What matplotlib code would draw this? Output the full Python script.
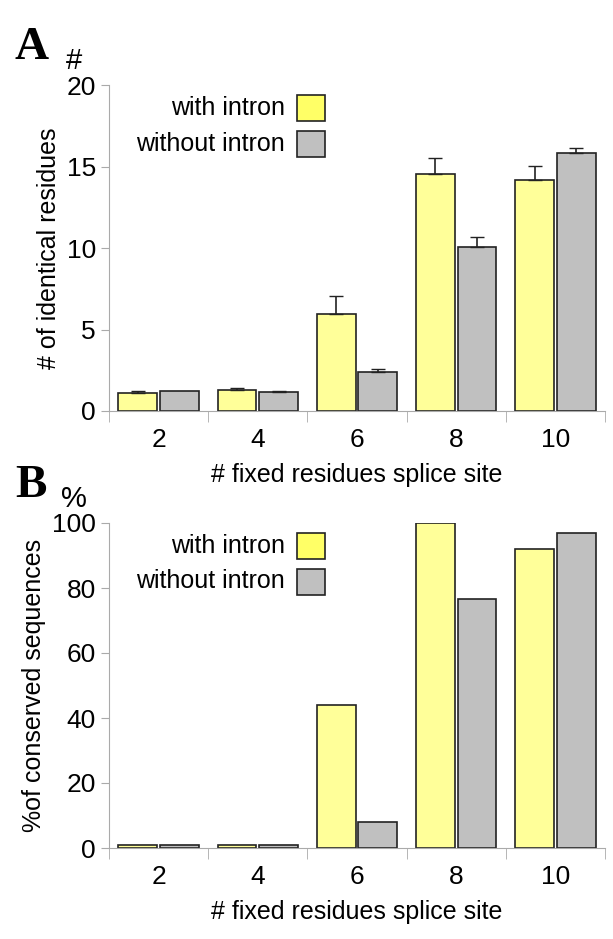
import numpy as np
import matplotlib
matplotlib.use('Agg')
import matplotlib.pyplot as plt
from matplotlib.patches import Rectangle

plt.rcParams['font.family'] = ['Liberation Sans', 'DejaVu Sans']

categories = ['2', '4', '6', '8', '10']
a_with = [1.1, 1.3, 5.95, 14.55, 14.2]
a_with_err = [0.1, 0.1, 1.1, 0.95, 0.85]
a_without = [1.25, 1.15, 2.4, 10.05, 15.8]
a_without_err = [0.0, 0.08, 0.15, 0.65, 0.35]
b_with = [1, 1, 44, 100, 92]
b_without = [1, 1, 8, 76.5, 97]

W, H = 613, 939
fig = plt.figure(figsize=(W / 100, H / 100), dpi=100)

yel = '#FFFF99'
yel_leg = '#FFFF66'
gry = '#C0C0C0'


def panel(rect, vw, vwo, ew, ewo, ymax, step, ylabel, unit, letter):
    ax = fig.add_axes(rect)
    x = np.arange(len(categories))
    bw = 0.39
    ax.bar(x - 0.21, vw, bw, color=yel, edgecolor='#222222', linewidth=1.2, zorder=2)
    ax.bar(x + 0.21, vwo, bw, color=gry, edgecolor='#222222', linewidth=1.2, zorder=2)
    if ew is not None:
        for xi, v, e in zip(x - 0.21, vw, ew):
            if e > 0:
                ax.errorbar(xi, v, yerr=[[0], [e]], color='#222222', capsize=5, lw=1.2, zorder=3)
        for xi, v, e in zip(x + 0.21, vwo, ewo):
            if e > 0:
                ax.errorbar(xi, v, yerr=[[0], [e]], color='#222222', capsize=5, lw=1.2, zorder=3)
    ax.set_xlim(-0.5, len(categories) - 0.5)
    ax.set_ylim(0, ymax)
    ax.set_yticks(np.arange(0, ymax + 1, step))
    ax.set_xticks(x)
    ax.set_xticklabels(categories)
    ax.set_xticks(np.arange(-0.5, len(categories)), minor=True)
    ax.tick_params(axis='x', which='major', length=0, labelsize=19, pad=12)
    ax.tick_params(axis='x', which='minor', length=8, color='#aaaaaa')
    ax.tick_params(axis='y', labelsize=19, length=6, color='#aaaaaa')
    for s in ['top', 'right']:
        ax.spines[s].set_visible(False)
    for s in ['left', 'bottom']:
        ax.spines[s].set_color('#aaaaaa')
    ax.set_ylabel(ylabel, fontsize=18, labelpad=4)
    ax.set_xlabel('# fixed residues splice site', fontsize=18, labelpad=8)
    ax.text(-0.07, 1.05, unit, transform=ax.transAxes, fontsize=21, ha='center')
    ax.text(-0.19, 1.08, letter, transform=ax.transAxes, fontsize=34,
            fontweight='bold', family='Liberation Serif')
    # legend
    for i, (lab, c) in enumerate([('with intron', yel_leg), ('without intron', gry)]):
        yy = 0.93 - i * 0.11
        ax.text(0.355, yy, lab, transform=ax.transAxes, fontsize=18, ha='right', va='center')
        ax.add_patch(Rectangle((0.38, yy - 0.04), 0.055, 0.08, transform=ax.transAxes,
                               facecolor=c, edgecolor='#222222', lw=1.2, clip_on=False))
    return ax


l = 109 / W
w = (605 - 109) / W
panel([l, 1 - 411 / H, w, (411 - 85) / H], a_with, a_without, a_with_err, a_without_err,
      20, 5, '# of identical residues', '#', 'A')
panel([l, 1 - 848 / H, w, (848 - 523) / H], b_with, b_without, None, None,
      100, 20, '%of conserved sequences', '%', 'B')

fig.savefig('out.png', dpi=100)
